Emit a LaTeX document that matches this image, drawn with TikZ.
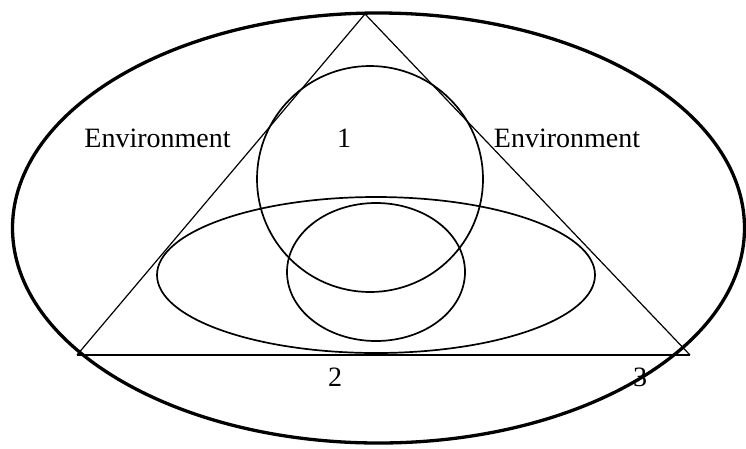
\documentclass[tikz,border=0pt]{standalone}
\usepackage{fontspec}
\setmainfont{Liberation Serif}
\begin{document}
\begin{tikzpicture}[x=1pt,y=-1pt,
  outer/.style={line width=3.3pt},
  inner/.style={line width=1.7pt},
  tri/.style={line width=1.2pt},
  lbl/.style={anchor=base,inner sep=0pt,font=\fontsize{28}{34}\selectfont}]
\useasboundingbox (0,0) rectangle (746,448);
\draw[outer] (378.5,228) ellipse [x radius=366, y radius=215];
\coordinate (A) at (365,14);
\coordinate (B) at (77,355);
\coordinate (C) at (690,355);
\draw[tri] (A) -- (B);
\draw[tri] (A) -- (C);
\draw[line width=2pt] (B) -- (C);
\draw[inner] (370,179) circle [radius=113];
\draw[inner] (376,275) ellipse [x radius=219, y radius=78];
\draw[inner] (376,272) ellipse [x radius=89, y radius=69];
\node[lbl] (envL) at (157.5,147) {Environment};
\node[lbl] (envR) at (567,147) {Environment};
\node[lbl] (one) at (344,147) {1};
\node[lbl] (two) at (335,386) {2};
\node[lbl] (three) at (640,386) {3};
\end{tikzpicture}
\end{document}
